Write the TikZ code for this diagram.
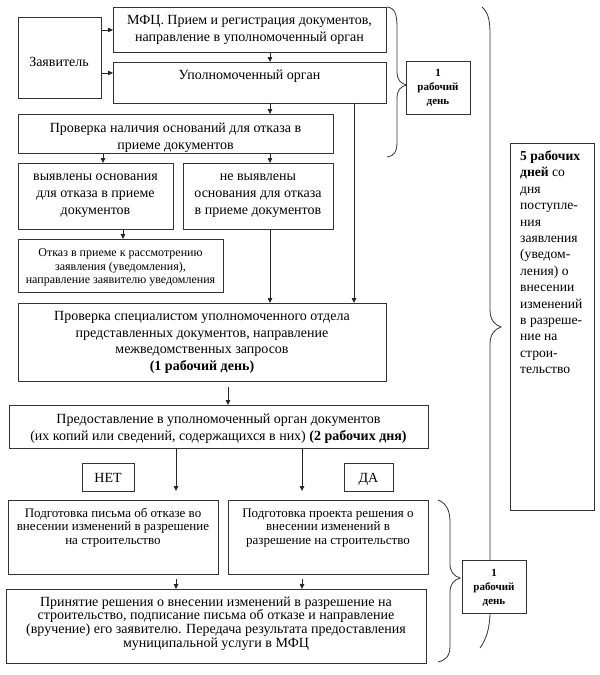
\documentclass[tikz,border=0pt]{standalone}
\usepackage{fontspec}
\setmainfont{Liberation Serif}
\usetikzlibrary{arrows.meta}
\begin{document}
\begin{tikzpicture}[x=1pt,y=-1pt,
  box/.style={draw=black!80, line width=0.9pt, inner sep=0pt, anchor=north west, fill=white},
  txt/.style={inner sep=0pt, align=center, anchor=base},
  fA/.style={font=\fontsize{14}{17}\selectfont},
  fB/.style={font=\fontsize{12}{13.5}\selectfont},
  fC/.style={font=\fontsize{13}{13.7}\selectfont},
  fD/.style={font=\fontsize{11}{14}\selectfont\bfseries},
  arr/.style={draw=black!85, line width=0.8pt, -{Triangle[length=5pt,width=4.5pt]}},
  brace/.style={draw=black!80, line width=0.8pt},
]
\useasboundingbox (0,0) rectangle (600,675);
% braces (drawn first)
\draw[brace] (387,7) .. controls (395,8) and (397,14) .. (397,28) -- (397,72)
  .. controls (397,80) and (401,84) .. (407,85) .. controls (401,86) and (397,90) .. (397,98)
  -- (397,142) .. controls (397,152) and (394,156) .. (387,157);
\draw[brace] (482,7) .. controls (488,12) and (490,20) .. (490,34) -- (490,310)
  .. controls (490,320) and (495,325) .. (501,327) .. controls (495,329) and (490,334) .. (490,344)
  -- (490,612) .. controls (490,628) and (486,640) .. (480,648);
\draw[brace] (438,500) .. controls (446,503) and (450,510) .. (450,522) -- (450,564)
  .. controls (450,572) and (454,576) .. (460,578) .. controls (454,580) and (450,584) .. (450,592)
  -- (450,646) .. controls (450,656) and (446,660) .. (438,662);

% boxes
\node[box, minimum width=83pt, minimum height=81pt] (zay) at (18,17) {};
\node[box, minimum width=273pt, minimum height=45pt] (mfc) at (113,7) {};
\node[box, minimum width=273pt, minimum height=41pt] (upo) at (113,62) {};
\node[box, minimum width=315pt, minimum height=39pt] (prov1) at (18,114) {};
\node[box, minimum width=155pt, minimum height=66pt] (vyy) at (18,163) {};
\node[box, minimum width=150pt, minimum height=66pt] (nevyy) at (183,163) {};
\node[box, minimum width=205pt, minimum height=53pt] (otk) at (18,239) {};
\node[box, minimum width=368pt, minimum height=78pt] (prov2) at (18,303) {};
\node[box, minimum width=419pt, minimum height=43pt] (pred) at (9,405) {};
\node[box, minimum width=52pt, minimum height=28pt] (net) at (82,463) {};
\node[box, minimum width=49pt, minimum height=28pt] (da) at (344,463) {};
\node[box, minimum width=210pt, minimum height=74pt] (pis) at (8,500) {};
\node[box, minimum width=200pt, minimum height=74pt] (proj) at (228,500) {};
\node[box, minimum width=420pt, minimum height=74pt] (prin) at (6,589) {};
\node[box, minimum width=64pt, minimum height=53pt] (d1a) at (406,61) {};
\node[box, minimum width=64pt, minimum height=53pt] (d1b) at (462,560) {};
\node[box, minimum width=84pt, minimum height=367pt] (d5) at (510,143) {};

% texts (base anchor = baseline of the last line)
\node[txt, fA] (zay-t) at (59,66) {Заявитель};
\node[txt, fA] (mfc-t) at (249.5,41.5) {МФЦ. Прием и регистрация документов,\\направление в уполномоченный орган};
\node[txt, fA] (upo-t) at (249.5,79) {Уполномоченный орган};
\node[txt, fA] (prov1-t) at (175.5,149.5) {Проверка наличия оснований для отказа в\\приеме документов};
\node[txt, fA] (vyy-t) at (95.5,214.5) {выявлены основания\\для отказа в приеме\\документов};
\node[txt, fA] (nevyy-t) at (258,214.5) {не выявлены\\основания для отказа\\в приеме документов};
\node[txt, fB] (otk-t) at (120.5,283.5) {Отказ в приеме к рассмотрению\\заявления (уведомления),\\направление заявителю уведомления};
\node[txt, font=\fontsize{14}{16.5}\selectfont] (prov2-t) at (202,370) {Проверка специалистом уполномоченного отдела\\представленных документов, направление\\межведомственных запросов\\\textbf{(1 рабочий день)}};
\node[txt, fA] (pred-t) at (218.5,440.5) {Предоставление в уполномоченный орган документов\\(их копий или сведений, содержащихся в них) \textbf{(2 рабочих дня)}};
\node[txt, fA] (net-t) at (108,482.5) {НЕТ};
\node[txt, fA] (da-t) at (368.5,482.5) {ДА};
\node[txt, fC] (pis-t) at (113,544.4) {Подготовка письма об отказе во\\внесении изменений в разрешение\\на строительство};
\node[txt, fC] (proj-t) at (328,544.4) {Подготовка проекта решения о\\внесении изменений в\\разрешение на строительство};
\node[txt, font=\fontsize{14}{13.7}\selectfont] (prin-t) at (216,647.1) {Принятие решения о внесении изменений в разрешение на\\строительство, подписание письма об отказе и направление\\(вручение) его заявителю. Передача результата предоставления\\муниципальной услуги в МФЦ};
\node[txt, fD] (d1a-t) at (438,104) {1\\рабочий\\день};
\node[txt, fD] (d1b-t) at (494,604) {1\\рабочий\\день};
\node[txt, anchor=base west, align=left, font=\fontsize{13.6}{16.4}\selectfont] (d5-t) at (520,373.7) {\textbf{5 рабочих}\\\textbf{дней} со\\дня\\поступле-\\ния\\заявления\\(уведом-\\ления) о\\внесении\\изменений\\в разреше-\\ние на\\строи-\\тельство};

% connectors
\coordinate (x103) at (103,0);
\coordinate (x123) at (123,0);
\coordinate (x176) at (176,0);
\coordinate (x228) at (228,0);
\coordinate (x270) at (270,0);
\coordinate (x302) at (302,0);
\coordinate (x354) at (354,0);
\coordinate (zA) at ([yshift=10pt]upo.west);
\draw[arr] (zay.east |- mfc.west) -- (mfc.west);
\draw[arr] (zay.east |- zA) -- (zA);
\draw[arr] (mfc.south -| x270) -- (upo.north -| x270);
\draw[arr] (upo.south -| x270) -- (prov1.north -| x270);
\draw[arr] (upo.south -| x354) -- (prov2.north -| x354);
\draw[arr] (prov1.south -| x103) -- (vyy.north -| x103);
\draw[arr] (prov1.south -| x270) -- (nevyy.north -| x270);
\draw[arr] (vyy.south -| x123) -- (otk.north -| x123);
\draw[arr] (nevyy.south -| x270) -- (prov2.north -| x270);
\draw[arr] ([yshift=-5pt]prov2.south -| x228) -- (pred.north -| x228);
\draw[arr] (pred.south -| x176) -- ([yshift=9pt]pis.north -| x176);
\draw[arr] (pred.south -| x302) -- ([yshift=9pt]proj.north -| x302);
\draw[arr] ([yshift=-4pt]pis.south -| x176) -- (prin.north -| x176);
\draw[arr] ([yshift=-4pt]proj.south -| x302) -- (prin.north -| x302);
\end{tikzpicture}
\end{document}
